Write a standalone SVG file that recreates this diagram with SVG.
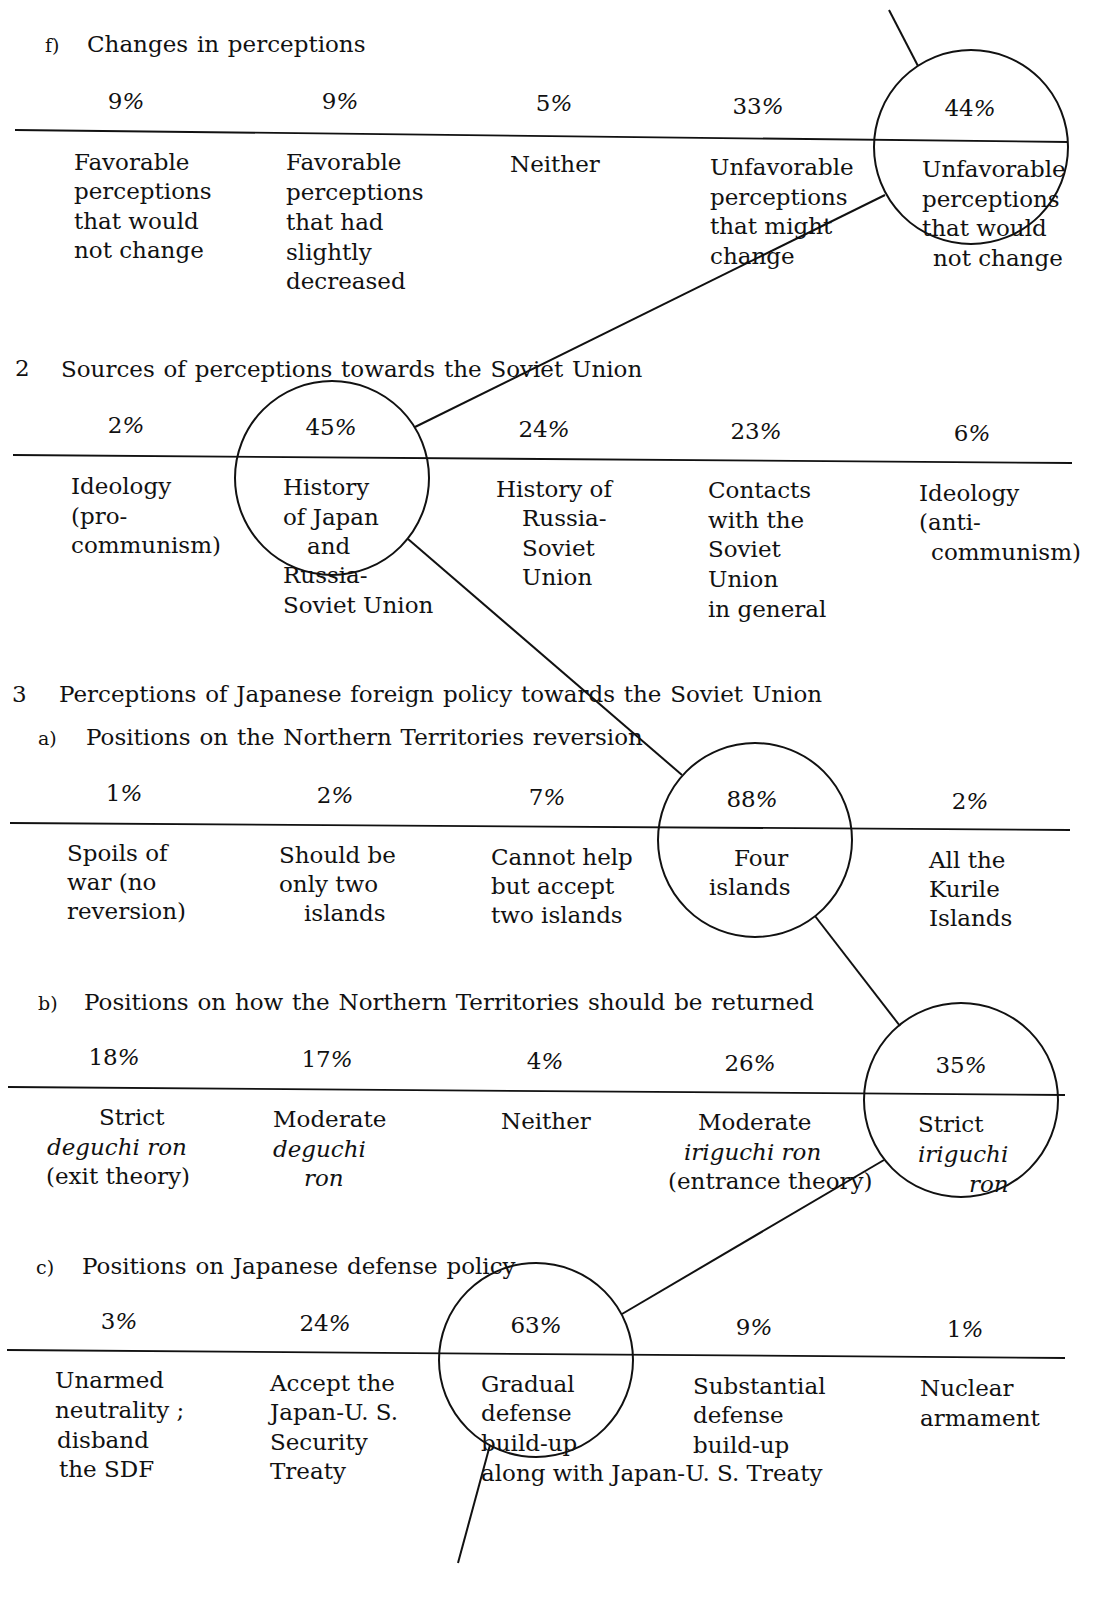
<svg xmlns="http://www.w3.org/2000/svg" width="1107" height="1619" viewBox="0 0 1107 1619">
<style>
text{font-family:"DejaVu Serif","Liberation Serif",serif;font-size:23px;fill:#111}
.hd{word-spacing:1.5px}
.pc{text-anchor:middle}
.it{font-style:italic}
.sm{font-size:19px}
.rule{stroke:#111;stroke-width:1.8;fill:none}
.ring{stroke:#111;stroke-width:2;fill:none}
.conn{stroke:#111;stroke-width:2;fill:none}
</style>
<rect width="1107" height="1619" fill="#fff"/>

<g id="section-f">
<text x="45" y="52" class="sm">f)</text>
<text x="87" y="52" class="hd">Changes in perceptions</text>
<text x="126" y="109" class="pc">9<tspan class="it">%</tspan></text>
<text x="340" y="109" class="pc">9<tspan class="it">%</tspan></text>
<text x="554" y="111" class="pc">5<tspan class="it">%</tspan></text>
<text x="758" y="114" class="pc">33<tspan class="it">%</tspan></text>
<text x="970" y="116" class="pc">44<tspan class="it">%</tspan></text>
<line class="rule" x1="15" y1="130" x2="1068" y2="142"/>
<g id="f1"><text x="74" y="170">Favorable</text><text x="74" y="199">perceptions</text><text x="74" y="229">that would</text><text x="74" y="258">not change</text></g>
<g id="f2"><text x="286" y="170">Favorable</text><text x="286" y="200">perceptions</text><text x="286" y="230">that had</text><text x="286" y="260">slightly</text><text x="286" y="289">decreased</text></g>
<g id="f3"><text x="510" y="172">Neither</text></g>
<g id="f4"><text x="710" y="175">Unfavorable</text><text x="710" y="205">perceptions</text><text x="710" y="234">that might</text><text x="710" y="264">change</text></g>
<g id="f5"><circle class="ring" cx="971" cy="147" r="97"/><text x="922" y="177">Unfavorable</text><text x="922" y="207">perceptions</text><text x="922" y="236">that would</text><text x="933" y="266">not change</text></g>
</g>

<g id="section-2">
<text x="15" y="376">2</text>
<text x="61" y="377" class="hd">Sources of perceptions towards the Soviet Union</text>
<text x="126" y="433" class="pc">2<tspan class="it">%</tspan></text>
<text x="331" y="435" class="pc">45<tspan class="it">%</tspan></text>
<text x="544" y="437" class="pc">24<tspan class="it">%</tspan></text>
<text x="756" y="439" class="pc">23<tspan class="it">%</tspan></text>
<text x="972" y="441" class="pc">6<tspan class="it">%</tspan></text>
<line class="rule" x1="13" y1="455" x2="1072" y2="463"/>
<g id="s1"><text x="71" y="494">Ideology</text><text x="71" y="524">(pro-</text><text x="71" y="553">communism)</text></g>
<g id="s2"><circle class="ring" cx="332" cy="478" r="97"/><text x="283" y="495">History</text><text x="283" y="525">of Japan</text><text x="307" y="554">and</text><text x="283" y="583">Russia-</text><text x="283" y="613">Soviet Union</text></g>
<g id="s3"><text x="496" y="497">History of</text><text x="522" y="526">Russia-</text><text x="522" y="556">Soviet</text><text x="522" y="585">Union</text></g>
<g id="s4"><text x="708" y="498">Contacts</text><text x="708" y="528">with the</text><text x="708" y="557">Soviet</text><text x="708" y="587">Union</text><text x="708" y="617">in general</text></g>
<g id="s5"><text x="919" y="501">Ideology</text><text x="919" y="530">(anti-</text><text x="931" y="560">communism)</text></g>
</g>

<g id="section-3a">
<text x="12" y="702">3</text>
<text x="59" y="702" class="hd">Perceptions of Japanese foreign policy towards the Soviet Union</text>
<text x="38" y="745" class="sm">a)</text>
<text x="86" y="745" class="hd">Positions on the Northern Territories reversion</text>
<text x="124" y="801" class="pc">1<tspan class="it">%</tspan></text>
<text x="335" y="803" class="pc">2<tspan class="it">%</tspan></text>
<text x="547" y="805" class="pc">7<tspan class="it">%</tspan></text>
<text x="752" y="807" class="pc">88<tspan class="it">%</tspan></text>
<text x="970" y="809" class="pc">2<tspan class="it">%</tspan></text>
<line class="rule" x1="10" y1="823" x2="1070" y2="830"/>
<g id="a1"><text x="67" y="861">Spoils of</text><text x="67" y="890">war (no</text><text x="67" y="919">reversion)</text></g>
<g id="a2"><text x="279" y="863">Should be</text><text x="279" y="892">only two</text><text x="304" y="921">islands</text></g>
<g id="a3"><text x="491" y="865">Cannot help</text><text x="491" y="894">but accept</text><text x="491" y="923">two islands</text></g>
<g id="a4"><circle class="ring" cx="755" cy="840" r="97"/><text x="734" y="866">Four</text><text x="709" y="895">islands</text></g>
<g id="a5"><text x="929" y="868">All the</text><text x="929" y="897">Kurile</text><text x="929" y="926">Islands</text></g>
</g>

<g id="section-3b">
<text x="38" y="1010" class="sm">b)</text>
<text x="84" y="1010" class="hd">Positions on how the Northern Territories should be returned</text>
<text x="114" y="1065" class="pc">18<tspan class="it">%</tspan></text>
<text x="327" y="1067" class="pc">17<tspan class="it">%</tspan></text>
<text x="545" y="1069" class="pc">4<tspan class="it">%</tspan></text>
<text x="750" y="1071" class="pc">26<tspan class="it">%</tspan></text>
<text x="961" y="1073" class="pc">35<tspan class="it">%</tspan></text>
<line class="rule" x1="8" y1="1087" x2="1065" y2="1095"/>
<g id="b1"><text x="99" y="1125">Strict</text><text x="47" y="1155" class="it">deguchi ron</text><text x="46" y="1184">(exit theory)</text></g>
<g id="b2"><text x="273" y="1127">Moderate</text><text x="273" y="1157" class="it">deguchi</text><text x="304" y="1186" class="it">ron</text></g>
<g id="b3"><text x="501" y="1129">Neither</text></g>
<g id="b4"><text x="698" y="1130">Moderate</text><text x="684" y="1160" class="it">iriguchi ron</text><text x="668" y="1189">(entrance theory)</text></g>
<g id="b5"><circle class="ring" cx="961" cy="1100" r="97"/><text x="918" y="1132">Strict</text><text x="918" y="1162" class="it">iriguchi</text><text x="969" y="1192" class="it">ron</text></g>
</g>

<g id="section-3c">
<text x="36" y="1274" class="sm">c)</text>
<text x="82" y="1274" class="hd">Positions on Japanese defense policy</text>
<text x="119" y="1329" class="pc">3<tspan class="it">%</tspan></text>
<text x="325" y="1331" class="pc">24<tspan class="it">%</tspan></text>
<text x="536" y="1333" class="pc">63<tspan class="it">%</tspan></text>
<text x="754" y="1335" class="pc">9<tspan class="it">%</tspan></text>
<text x="965" y="1337" class="pc">1<tspan class="it">%</tspan></text>
<line class="rule" x1="7" y1="1350" x2="1065" y2="1358"/>
<g id="c1"><text x="55" y="1388">Unarmed</text><text x="55" y="1418">neutrality ;</text><text x="57" y="1448">disband</text><text x="59" y="1477">the SDF</text></g>
<g id="c2"><text x="270" y="1391">Accept the</text><text x="270" y="1420">Japan-U. S.</text><text x="270" y="1450">Security</text><text x="270" y="1479">Treaty</text></g>
<g id="c3"><circle class="ring" cx="536" cy="1360" r="97"/><text x="481" y="1392">Gradual</text><text x="481" y="1421">defense</text><text x="481" y="1451">build-up</text><text x="481" y="1481">along with Japan-U. S. Treaty</text></g>
<g id="c4"><text x="693" y="1394">Substantial</text><text x="693" y="1423">defense</text><text x="693" y="1453">build-up</text></g>
<g id="c5"><text x="920" y="1396">Nuclear</text><text x="920" y="1426">armament</text></g>
</g>

<g id="connectors">
<line class="conn" x1="889" y1="10" x2="918" y2="66"/>
<line class="conn" x1="885" y1="195" x2="415" y2="427"/>
<line class="conn" x1="408" y1="539" x2="682" y2="775"/>
<line class="conn" x1="815" y1="916" x2="900" y2="1026"/>
<line class="conn" x1="884" y1="1160" x2="622" y2="1314"/>
<line class="conn" x1="490" y1="1445" x2="458" y2="1563"/>
</g>
</svg>
